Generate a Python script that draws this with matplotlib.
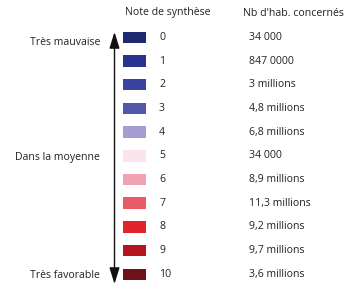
import matplotlib
matplotlib.use("Agg")
import matplotlib.pyplot as plt
from matplotlib.patches import Rectangle, FancyArrowPatch
from matplotlib import font_manager

notes = [0, 1, 2, 3, 4, 5, 6, 7, 8, 9, 10]
habitants = ["34 000", "847 0000", "3 millions", "4,8 millions", "6,8 millions",
             "34 000", "8,9 millions", "11,3 millions", "9,2 millions",
             "9,7 millions", "9,4 millions", "3,6 millions"]
couleurs = ["#1e2a70", "#27338f", "#3a43a0", "#5257ab", "#a69ed2", "#fbe4ee",
            "#f0a2b2", "#e85c68", "#e2232e", "#b3141f", "#701018"]
labels_gauche = {0: "Très mauvaise", 5: "Dans la moyenne", 10: "Très favorable"}
titre_notes = "Note de synthèse"
titre_hab = "Nb d'hab. concernés"

names = {f.name for f in font_manager.fontManager.ttflist}
fam = 'Liberation Sans Narrow' if 'Liberation Sans Narrow' in names else 'Open Sans'
plt.rcParams['font.family'] = [fam, 'DejaVu Sans']

fig = plt.figure(figsize=(3.46, 2.86), dpi=100)
ax = fig.add_axes([0, 0, 1, 1])
ax.set_xlim(0, 346)
ax.set_ylim(286, 0)
ax.axis('off')

txt = "#222222"
fs = 8.2 if fam == 'Liberation Sans Narrow' else 7.6
y0, dy = 37.3, 23.7
# 12 values were listed; the note column has 11 rows -> drop the extra one
vals = habitants[:10] + [habitants[11]]
for i, n in enumerate(notes):
    y = y0 + i * dy
    ax.add_patch(Rectangle((123, y - 5.8), 23, 11.6, facecolor=couleurs[i],
                           edgecolor='none'))
    ax.text(159, y, str(n), fontsize=fs, color=txt, va='center', ha='left')
    ax.text(249, y, vals[i], fontsize=fs, color=txt, va='center', ha='left')
    if i in labels_gauche:
        ax.text(100, y + (5 if i == 0 else 1.5), labels_gauche[i], fontsize=fs,
                color=txt, va='center', ha='right')

ax.text(125, 13, titre_notes, fontsize=fs, color=txt, va='center', ha='left')
ax.text(243, 13, titre_hab, fontsize=fs, color=txt, va='center', ha='left')

ax.add_patch(FancyArrowPatch((114.5, 32), (114.5, 284),
                             arrowstyle='<|-|>,head_length=0.9,head_width=0.28',
                             mutation_scale=11, color='#111111', lw=1,
                             shrinkA=0, shrinkB=0))

fig.savefig("out.png", dpi=100)
